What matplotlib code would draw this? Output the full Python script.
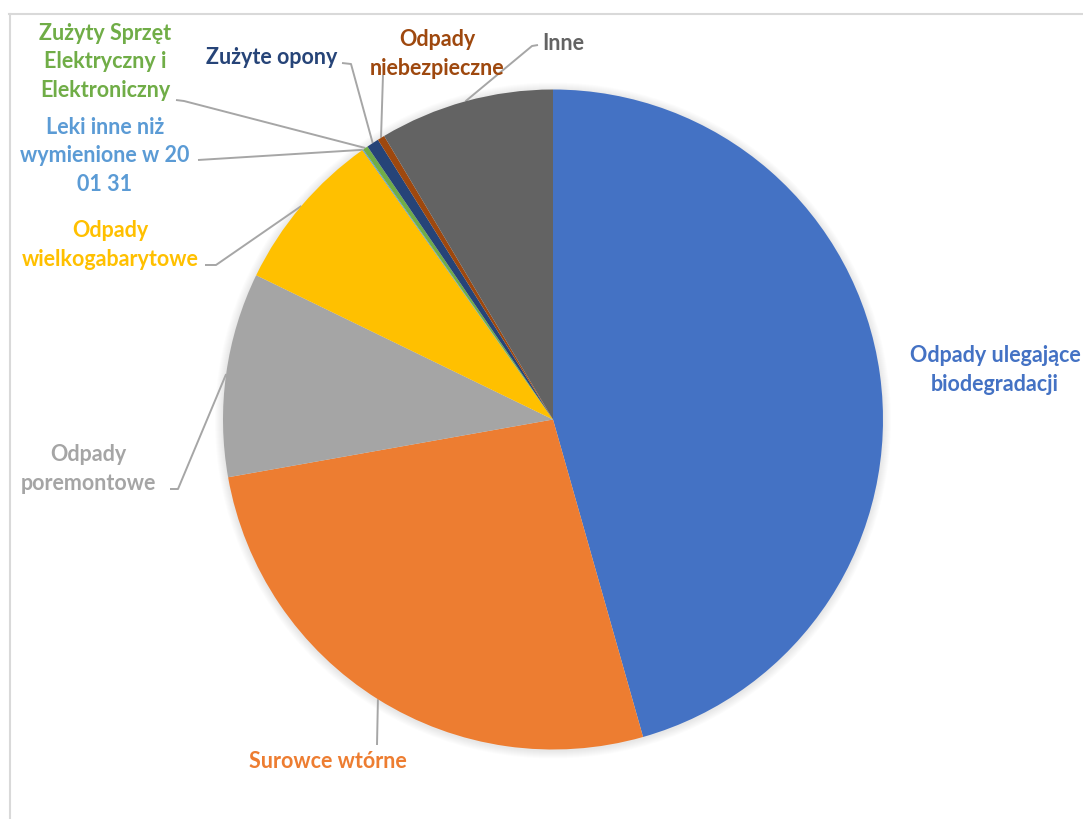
import numpy as np
import matplotlib.pyplot as plt
from matplotlib.lines import Line2D
from matplotlib.patches import Circle

W, H = 1083, 819

labels = ['Odpady ulegające\nbiodegradacji', 'Surowce wtórne', 'Odpady\nporemontowe',
          'Odpady\nwielkogabarytowe', 'Leki inne niż\nwymienione w 20\n01 31',
          'Zużyty Sprzęt\nElektryczny i\nElektroniczny', 'Zużyte opony',
          'Odpady\nniebezpieczne', 'Inne']
shares = [45.6, 26.6, 10.0, 8.0, 0.05, 0.25, 0.6, 0.35, 8.55]
colors = ['#4472C4', '#ED7D31', '#A5A5A5', '#FFC000', '#5B9BD5',
          '#70AD47', '#264478', '#9E480E', '#636363']

# label centre (pixels) and leader-line start points (pixels, top-left origin)
label_pos = [(995, 370), (328, 762), (88, 469), (110, 245), (105, 156),
             (105, 62), (272, 57), (437, 54), (563, 44)]
leader = [None, [(377, 745)], [(170, 489), (178, 489)], [(205, 265), (216, 265)],
          [(198, 160)], [(176, 100), (184, 101)], [(342, 63), (351, 64)],
          [(383, 75)], [(538, 45), (532, 46)]]

cx, cy, r = 553, 419.5, 330


def px(x, y):
    return x, H - y


fig = plt.figure(figsize=(W / 100, H / 100), dpi=100)
ax = fig.add_axes([0, 0, 1, 1])

# soft shadow round the pie
for k in range(8):
    ax.add_patch(Circle(px(cx, cy + 1), r + 8 - k, color='black', alpha=0.012, lw=0, zorder=0))

wedges, _ = ax.pie(shares, colors=colors, startangle=90, counterclock=False,
                   center=px(cx, cy), radius=r, wedgeprops=dict(linewidth=0))
for w in wedges:
    w.set_zorder(2)

ax.set_xlim(0, W)
ax.set_ylim(0, H)
ax.set_aspect('equal')
ax.axis('off')

for i, w in enumerate(wedges):
    mid = np.deg2rad((w.theta1 + w.theta2) / 2)
    ex = w.center[0] + r * np.cos(mid)
    ey = w.center[1] + r * np.sin(mid)
    if leader[i] is not None:
        pts = [px(*p) for p in leader[i]] + [(ex, ey)]
        xs, ys = zip(*pts)
        ax.plot(xs, ys, color='#A6A6A6', lw=1.4, zorder=1, solid_capstyle='butt')
    tx, ty = px(*label_pos[i])
    ax.text(tx, ty, labels[i], color=colors[i], ha='center', va='center',
            fontsize=15.5, fontweight='bold', family=['Lato', 'DejaVu Sans'],
            linespacing=1.42, zorder=3)

# chart frame (top and left edges visible)
fig.add_artist(Line2D([9 / W, 1], [1 - 13.5 / H, 1 - 13.5 / H], color='#D9D9D9', lw=1.5))
fig.add_artist(Line2D([10 / W, 10 / W], [0, 1 - 13.5 / H], color='#D9D9D9', lw=1.5))

fig.savefig('out.png', dpi=100, facecolor='white')
